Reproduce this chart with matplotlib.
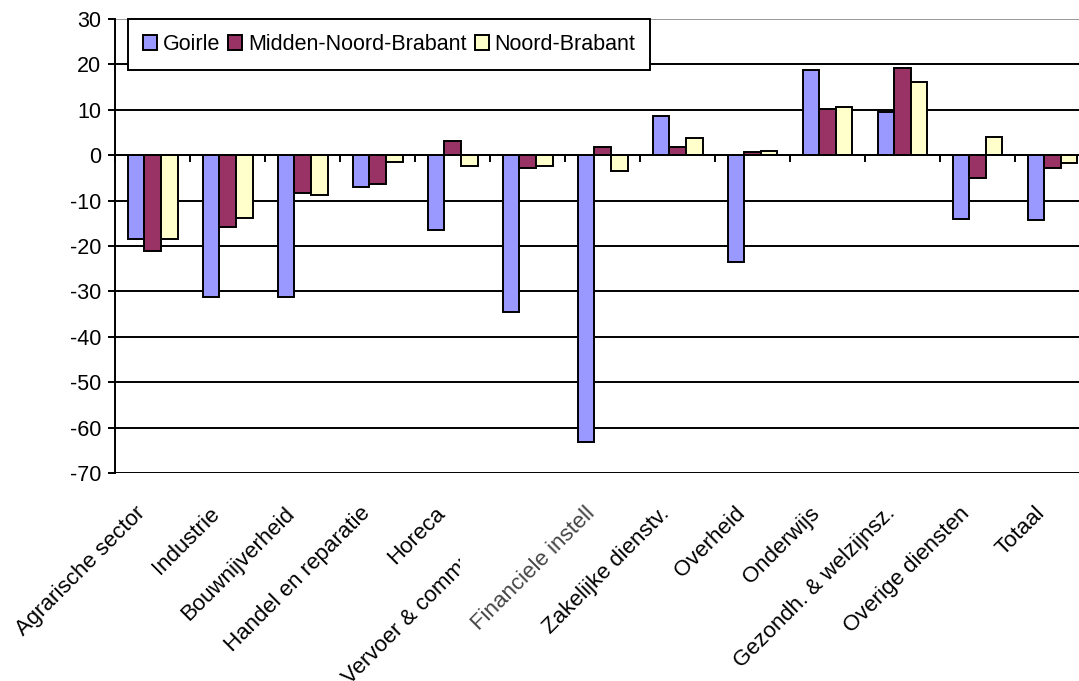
import matplotlib
matplotlib.use("Agg")
import matplotlib.pyplot as plt
import numpy as np
from matplotlib.transforms import Bbox, blended_transform_factory, offset_copy
from matplotlib.patches import Patch

plt.rcParams['font.family'] = ['Liberation Sans', 'DejaVu Sans']

categories = ["Agrarische sector", "Industrie", "Bouwnijverheid", "Handel en reparatie",
              "Horeca", "Vervoer & communicatie", "Financiele instell", "Zakelijke dienstv.",
              "Overheid", "Onderwijs", "Gezondh. & welzijnsz.", "Overige diensten", "Totaal"]
series_names = ["Goirle", "Midden-Noord-Brabant", "Noord-Brabant"]
goirle = [-18.5, -31.3, -31.3, -7.0, -16.5, -34.5, -63.2, 8.6, -23.6, 18.8, 9.5, -14.0, -14.3]
midden = [-21.0, -15.8, -8.3, -6.4, 3.1, -2.9, 1.8, 1.7, 0.7, 10.1, 19.2, -5.1, -2.8]
noord = [-18.5, -13.9, -8.8, -1.5, -2.4, -2.4, -3.4, 3.7, 0.9, 10.6, 16.1, 4.0, -1.8]
colors = ["#9999FF", "#993366", "#FFFFCC"]
yticks = list(range(-70, 31, 10))

W, H = 1079, 681
fig = plt.figure(figsize=(W / 100, H / 100), dpi=100)
ax = fig.add_axes([115 / W, 1 - 473 / H, (1090 - 115) / W, (473 - 19) / H])

n = len(categories)
x = np.arange(n)
bw = 1 / 4.5
for i, (vals, c, name) in enumerate(zip([goirle, midden, noord], colors, series_names)):
    ax.bar(x + (i - 1) * bw, vals, width=bw, color=c, edgecolor='black',
           linewidth=1.4, label=name, zorder=3)

ax.set_xlim(-0.5, n - 0.5)
ax.set_ylim(-70, 30)
ax.set_yticks(yticks)
ax.set_yticklabels([str(v) for v in yticks], fontsize=15.5)
for v in yticks:
    ax.axhline(v, color='black' if v != 30 else '#999999', linewidth=1.4, zorder=1)

for s in ['top', 'right']:
    ax.spines[s].set_visible(False)
ax.spines['left'].set_linewidth(1.4)
ax.spines['bottom'].set_position(('data', 0))
ax.spines['bottom'].set_linewidth(1.4)
ax.spines['bottom'].set_zorder(4)
ax.set_xticks(np.arange(n + 1) - 0.5)
ax.set_xticklabels([])
ax.tick_params(axis='x', direction='out', length=5, width=1.4)
ax.tick_params(axis='y', direction='out', length=5, width=1.4, pad=5)

trans = blended_transform_factory(ax.transData, ax.transAxes)
for i, lab in enumerate(categories):
    t = offset_copy(trans, fig=fig, x=-18, y=-30, units='dots')
    color = '#444444' if lab.startswith('Financ') else 'black'
    txt = ax.text(i, 0, lab, transform=t, rotation=45, ha='right', va='top',
                  rotation_mode='anchor', fontsize=16, color=color, clip_on=False)
    if lab.startswith('Vervoer'):
        txt.set_clip_on(True)
        txt.set_clip_box(Bbox.from_extents(0, 0, 460, H))

handles = [Patch(facecolor=c, edgecolor='black', linewidth=1.4) for c in colors]
leg = fig.legend(handles, series_names, loc='upper left',
                 bbox_to_anchor=(128 / W, 1 - 19 / H), ncol=3, fontsize=15.5,
                 frameon=True, fancybox=False, framealpha=1, edgecolor='black',
                 handlelength=0.65, handleheight=0.65, handletextpad=0.25,
                 columnspacing=0.4, borderpad=0.7, borderaxespad=0)
leg.get_frame().set_linewidth(1.4)

fig.savefig("out.png", dpi=100)
